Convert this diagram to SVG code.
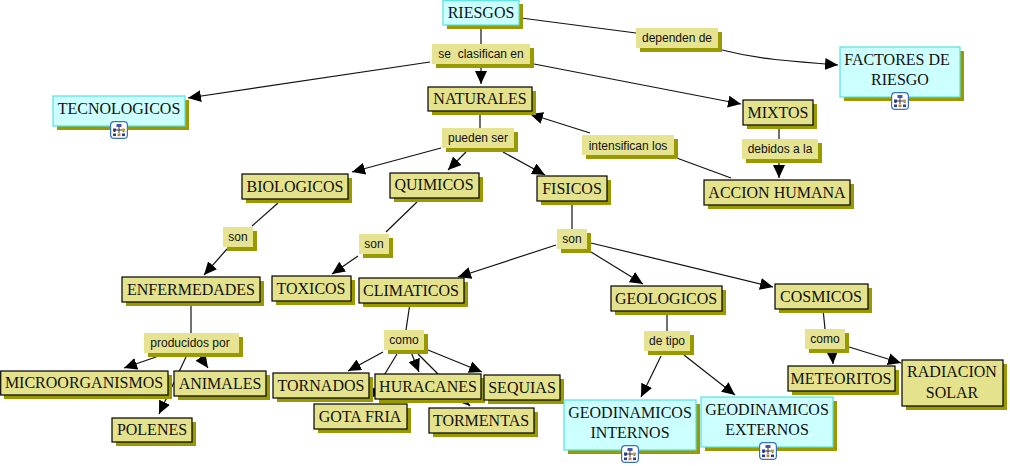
<svg xmlns="http://www.w3.org/2000/svg" width="1010" height="466" viewBox="0 0 1010 466">
<style>
.s{fill:#999900}
.c{fill:#e4e28c;stroke:#000;stroke-width:1.2}
.k{fill:#ccffff;stroke:#55e0e0;stroke-width:1.2}
.l{fill:#e6e492}
.t{font-family:"Liberation Serif",serif;font-size:16px;fill:#111;text-anchor:middle;white-space:pre}
.u{font-family:"Liberation Sans",Arial,sans-serif;font-size:12px;fill:#111;text-anchor:middle;white-space:pre}
#connectors path{fill:none;stroke:#111;stroke-width:1.2}
.a{marker-end:url(#arrow)}
</style>
<defs>
<marker id="arrow" markerUnits="userSpaceOnUse" viewBox="0 0 13 12" markerWidth="13" markerHeight="12" refX="13" refY="6" orient="auto"><path d="M0 0L13 6L0 12Z" fill="#000"/></marker>
<g id="icon">
<rect x="0.6" y="0.6" width="16.8" height="16.8" rx="3.5" fill="#fff" stroke="#3a70c0" stroke-width="1.2"/>
<path d="M9 6V9M4.500 11V9H13.500V11M9 9V12" fill="none" stroke="#222" stroke-width="0.9"/>
<rect x="6.5" y="3" width="5" height="3" fill="#4a55a8"/>
<rect x="3" y="7.5" width="3" height="3" fill="#2b3f90"/>
<rect x="12" y="7.5" width="3" height="3" fill="#c0a040"/>
<rect x="3" y="12.5" width="3" height="2.6" fill="#2b3f90"/>
<rect x="7.5" y="12.5" width="3" height="2.6" fill="#c08040"/>
<rect x="12" y="12.5" width="3" height="2.6" fill="#2b3f90"/>
</g>
</defs>
<g id="connectors">
<path d="M481 25V44"/>
<path class="a" d="M481 63V84"/>
<path class="a" d="M430 62L188 98"/>
<path class="a" d="M534 64L741 104"/>
<path d="M521 18L636 33"/>
<path class="a" d="M722 50Q750 57 775 59.500T838 65"/>
<path d="M480 111V128"/>
<path class="a" d="M441 148L352 172"/>
<path class="a" d="M466 152L448 170"/>
<path class="a" d="M503 152L545 175"/>
<path class="a" d="M590 133L530 114"/>
<path d="M731 178L674 157"/>
<path d="M779 125V139"/>
<path class="a" d="M779 159V178"/>
<path d="M278 203L252 226"/>
<path class="a" d="M227 249L204 275"/>
<path d="M417 202L386 232"/>
<path class="a" d="M358 256L332 274"/>
<path d="M572 201V229"/>
<path class="a" d="M556 245L458 277"/>
<path class="a" d="M591 252L643 284"/>
<path class="a" d="M591 243L773 287"/>
<path d="M191 302V333"/>
<path class="a" d="M156 357L124 368"/>
<path class="a" d="M199 355L208 368"/>
<path class="a" d="M186 357L159 414"/>
<path d="M410 303L406 330"/>
<path class="a" d="M383 352L348 371"/>
<path class="a" d="M397 354L369 400"/>
<path class="a" d="M411 352L419 372"/>
<path class="a" d="M418 354L470 406"/>
<path class="a" d="M428 350L482 372"/>
<path d="M667 311V331"/>
<path class="a" d="M661 356L641 397"/>
<path class="a" d="M684 355L735 395"/>
<path d="M823 309L825 329"/>
<path class="a" d="M832 349L833 364"/>
<path class="a" d="M849 347L901 363"/>
</g>
<g id="riesgos"><rect class="s" x="447" y="4" width="76" height="25"/><rect class="k" x="443" y="0.700" width="76" height="24.300"/><text class="t" x="481" y="18">RIESGOS</text></g>
<g id="tecnologicos"><rect class="s" x="57" y="100" width="132" height="30"/><rect class="k" x="53" y="96" width="132" height="30"/><text class="t" x="119" y="114">TECNOLOGICOS</text><use href="#icon" x="110" y="121"/></g>
<g id="factores"><rect class="s" x="844" y="51" width="120" height="50"/><rect class="k" x="840" y="47" width="120" height="50"/><text class="t" x="897" y="65">FACTORES DE</text><text class="t" x="900" y="85">RIESGO</text><use href="#icon" x="891" y="92"/></g>
<g id="naturales"><rect class="s" x="432" y="91" width="104" height="24"/><rect class="c" x="428" y="87" width="104" height="24"/><text class="t" x="480" y="104">NATURALES</text></g>
<g id="mixtos"><rect class="s" x="747" y="104" width="70" height="25"/><rect class="c" x="743" y="100" width="70" height="25"/><text class="t" x="778" y="118">MIXTOS</text></g>
<g id="accion"><rect class="s" x="708" y="184" width="146" height="25"/><rect class="c" x="704" y="180" width="146" height="25"/><text class="t" x="777" y="198">ACCION HUMANA</text></g>
<g id="biologicos"><rect class="s" x="246" y="178" width="106" height="25"/><rect class="c" x="242" y="174" width="106" height="25"/><text class="t" x="295" y="192">BIOLOGICOS</text></g>
<g id="quimicos"><rect class="s" x="394" y="177" width="89" height="25"/><rect class="c" x="390" y="173" width="89" height="25"/><text class="t" x="434" y="190">QUIMICOS</text></g>
<g id="fisicos"><rect class="s" x="541" y="180" width="70" height="25"/><rect class="c" x="537" y="176" width="70" height="25"/><text class="t" x="572" y="194">FISICOS</text></g>
<g id="enfermedades"><rect class="s" x="126" y="281" width="138" height="25"/><rect class="c" x="122" y="277" width="138" height="25"/><text class="t" x="191" y="295">ENFERMEDADES</text></g>
<g id="toxicos"><rect class="s" x="276" y="280" width="79" height="25"/><rect class="c" x="272" y="276" width="79" height="25"/><text class="t" x="311" y="294">TOXICOS</text></g>
<g id="climaticos"><rect class="s" x="363" y="282" width="105" height="25"/><rect class="c" x="359" y="278" width="105" height="25"/><text class="t" x="411" y="296">CLIMATICOS</text></g>
<g id="geologicos"><rect class="s" x="615" y="290" width="111" height="25"/><rect class="c" x="611" y="286" width="111" height="25"/><text class="t" x="666" y="304">GEOLOGICOS</text></g>
<g id="cosmicos"><rect class="s" x="779" y="288" width="93" height="25"/><rect class="c" x="775" y="284" width="93" height="25"/><text class="t" x="821" y="302">COSMICOS</text></g>
<g id="microorganismos"><rect class="s" x="4" y="375" width="168" height="24"/><rect class="c" x="0.700" y="371" width="167.300" height="24"/><text class="t" x="84" y="388">MICROORGANISMOS</text></g>
<g id="animales"><rect class="s" x="178" y="375" width="92" height="25"/><rect class="c" x="174" y="371" width="92" height="25"/><text class="t" x="220" y="389">ANIMALES</text></g>
<g id="polenes"><rect class="s" x="116" y="422" width="80" height="24"/><rect class="c" x="112" y="418" width="80" height="24"/><text class="t" x="152" y="435">POLENES</text></g>
<g id="tornados"><rect class="s" x="277" y="377" width="96" height="25"/><rect class="c" x="273" y="373" width="96" height="25"/><text class="t" x="321" y="391">TORNADOS</text></g>
<g id="gotafria"><rect class="s" x="318" y="408" width="93" height="25"/><rect class="c" x="314" y="404" width="93" height="25"/><text class="t" x="360" y="422">GOTA FRIA</text></g>
<g id="tormentas"><rect class="s" x="433" y="412" width="105" height="25"/><rect class="c" x="429" y="408" width="105" height="25"/><text class="t" x="481" y="426">TORMENTAS</text></g>
<g id="huracanes"><rect class="s" x="379" y="378" width="106" height="25"/><rect class="c" x="375" y="374" width="106" height="25"/><text class="t" x="428" y="392">HURACANES</text></g>
<g id="sequias"><rect class="s" x="488" y="379" width="76" height="25"/><rect class="c" x="484" y="375" width="76" height="25"/><text class="t" x="522" y="393">SEQUIAS</text></g>
<g id="meteoritos"><rect class="s" x="792" y="370" width="107" height="25"/><rect class="c" x="788" y="366" width="107" height="25"/><text class="t" x="841" y="384">METEORITOS</text></g>
<g id="radiacion"><rect class="s" x="906" y="364" width="101" height="46"/><rect class="c" x="902" y="360" width="101" height="46"/><text class="t" x="952" y="377">RADIACION</text><text class="t" x="952" y="398">SOLAR</text></g>
<g id="internos"><rect class="s" x="568" y="404" width="132" height="50"/><rect class="k" x="564" y="400" width="132" height="50"/><text class="t" x="630" y="418">GEODINAMICOS</text><text class="t" x="630" y="438">INTERNOS</text><use href="#icon" x="621" y="445"/></g>
<g id="externos"><rect class="s" x="705" y="401" width="132" height="50"/><rect class="k" x="701" y="397" width="132" height="50"/><text class="t" x="767" y="415">GEODINAMICOS</text><text class="t" x="767" y="435">EXTERNOS</text><use href="#icon" x="759" y="442"/></g>
<g id="lbl-clasifican"><rect class="s" x="436" y="48" width="98" height="20"/><rect class="l" x="432" y="44" width="98" height="20"/><text class="u" x="481" y="58">se  clasifican en</text></g>
<g id="lbl-dependen"><rect class="s" x="640" y="32" width="82" height="20"/><rect class="l" x="636" y="28" width="82" height="20"/><text class="u" x="677" y="42">dependen de</text></g>
<g id="lbl-pueden"><rect class="s" x="446" y="132" width="72" height="20"/><rect class="l" x="442" y="128" width="72" height="20"/><text class="u" x="478" y="142">pueden ser</text></g>
<g id="lbl-intensifican"><rect class="s" x="586" y="139" width="92" height="20"/><rect class="l" x="582" y="135" width="92" height="20"/><text class="u" x="628" y="150">intensifican los</text></g>
<g id="lbl-debidos"><rect class="s" x="746" y="143" width="76" height="20"/><rect class="l" x="742" y="139" width="76" height="20"/><text class="u" x="780" y="153">debidos a la</text></g>
<g id="lbl-son1"><rect class="s" x="227" y="231" width="30" height="20"/><rect class="l" x="223" y="227" width="30" height="20"/><text class="u" x="238" y="241">son</text></g>
<g id="lbl-son2"><rect class="s" x="363" y="238" width="30" height="20"/><rect class="l" x="359" y="234" width="30" height="20"/><text class="u" x="374" y="248">son</text></g>
<g id="lbl-son3"><rect class="s" x="561" y="233" width="30" height="20"/><rect class="l" x="557" y="229" width="30" height="20"/><text class="u" x="572" y="243">son</text></g>
<g id="lbl-producidos"><rect class="s" x="148" y="337" width="95" height="20"/><rect class="l" x="144" y="333" width="95" height="20"/><text class="u" x="190" y="347">producidos por</text></g>
<g id="lbl-como1"><rect class="s" x="388" y="334" width="40" height="20"/><rect class="l" x="384" y="330" width="40" height="20"/><text class="u" x="404" y="344">como</text></g>
<g id="lbl-detipo"><rect class="s" x="648" y="335" width="46" height="20"/><rect class="l" x="644" y="331" width="46" height="20"/><text class="u" x="667" y="345">de tipo</text></g>
<g id="lbl-como2"><rect class="s" x="809" y="333" width="40" height="20"/><rect class="l" x="805" y="329" width="40" height="20"/><text class="u" x="825" y="343">como</text></g>
</svg>
